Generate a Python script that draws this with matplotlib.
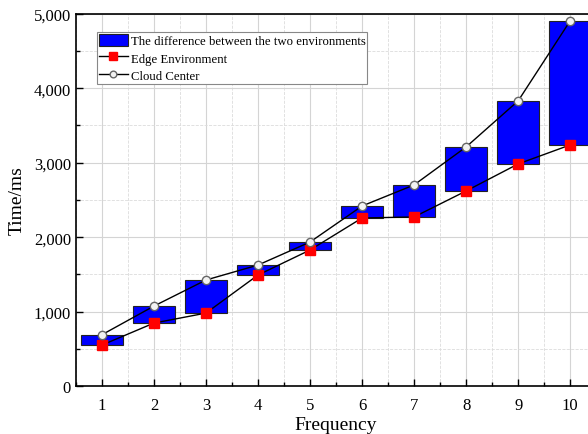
import matplotlib
matplotlib.use("Agg")
import matplotlib.pyplot as plt
from matplotlib.ticker import MultipleLocator, FuncFormatter

plt.rcParams['font.family'] = ['Liberation Serif', 'DejaVu Serif']

# Data
frequency = [1, 2, 3, 4, 5, 6, 7, 8, 9, 10]
cloud_center = [690, 1075, 1425, 1626, 1935, 2419, 2702, 3212, 3831, 4906]
edge_env = [551, 847, 981, 1492, 1828, 2258, 2272, 2621, 2984, 3239]

diff = [c - e for c, e in zip(cloud_center, edge_env)]

fig = plt.figure(figsize=(5.88, 4.35), dpi=100)
ax = fig.add_axes([0.129, 0.110, 0.885, 0.856])

# grid
ax.grid(which='major', color='#d4d4d4', linestyle='-', linewidth=0.8, zorder=0)
ax.grid(which='minor', color='#dcdcdc', linestyle='--', linewidth=0.6, zorder=0)

bars = ax.bar(frequency, diff, bottom=edge_env, width=0.8, color='#0000ff',
              edgecolor='#222222', linewidth=0.8, zorder=2)
l_edge, = ax.plot(frequency, edge_env, color='black', linewidth=1, marker='s',
                  markersize=6.5, markerfacecolor='red', markeredgecolor='red',
                  zorder=3)
l_cloud, = ax.plot(frequency, cloud_center, color='black', linewidth=1, marker='o',
                   markersize=6, markerfacecolor='#f2f2f2', markeredgecolor='#666666',
                   zorder=4)

ax.set_xlim(0.5, 10.5)
ax.set_ylim(0, 5000)
ax.xaxis.set_major_locator(MultipleLocator(1))
ax.xaxis.set_minor_locator(MultipleLocator(0.5))
ax.yaxis.set_major_locator(MultipleLocator(1000))
ax.yaxis.set_minor_locator(MultipleLocator(500))
ax.yaxis.set_major_formatter(FuncFormatter(lambda v, p: f"{int(v):,}"))

ax.tick_params(which='both', direction='in', labelsize=12, width=1,
               top=False, right=False)
ax.tick_params(which='major', length=5)
ax.tick_params(which='minor', length=3)
ax.tick_params(axis='x', pad=8)
for s in ax.spines.values():
    s.set_linewidth(1.2)

ax.set_xlabel('Frequency', fontsize=14, labelpad=2)
ax.set_ylabel('Time/ms', fontsize=14, labelpad=6)

leg = ax.legend([bars, l_edge, l_cloud],
                ['The difference between the two environments',
                 'Edge Environment', 'Cloud Center'],
                loc='upper left', bbox_to_anchor=(0.040, 0.952), fontsize=9.2,
                frameon=True, fancybox=False, edgecolor='#888888', framealpha=1,
                borderpad=0.15, labelspacing=0.3, handlelength=2.3,
                handleheight=1.15, handletextpad=0.2, borderaxespad=0,
                markerscale=0.8)
leg.get_frame().set_linewidth(0.8)

fig.savefig('out.png', dpi=100)
